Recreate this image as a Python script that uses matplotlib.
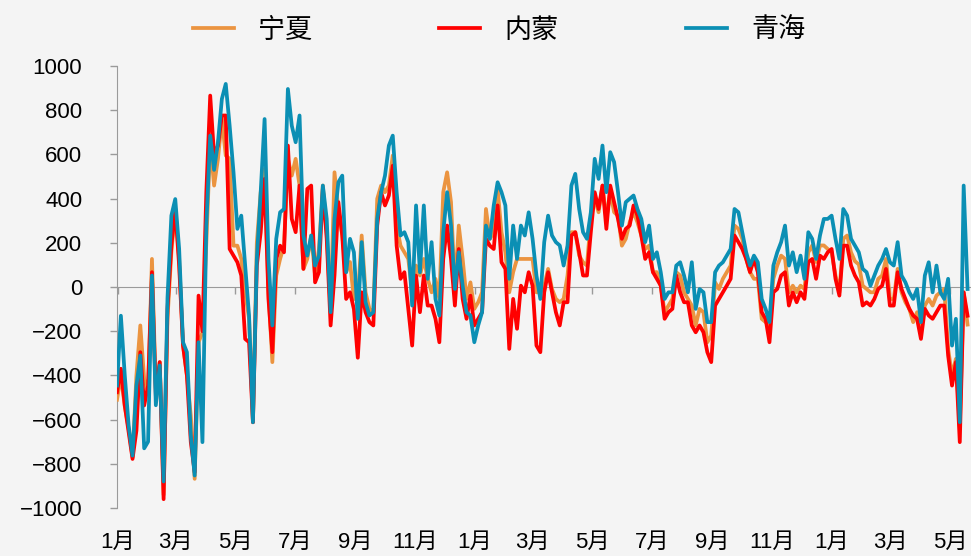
import matplotlib
matplotlib.use("Agg")
import matplotlib.pyplot as plt
import matplotlib.dates as mdates
import matplotlib.ticker as mticker
import pandas as pd

plt.rcParams['font.family'] = ['Liberation Sans', 'Noto Sans CJK SC']
plt.rcParams['axes.unicode_minus'] = True

# sampled roughly every 4 days, Jan (year 1) .. late May (year 3)
dates = pd.date_range('2021-12-31', '2024-05-19', periods=220)

ningxia = [
    -510, -400, -540, -640, -770, -400, -174, -416, -476, 127, -461, -340, -940, -144, 157,
    353, 127, -265, -400, -582, -868, -250, -205, 200, 655, 459, 580, 761, 595, 580,
    187, 187, 127, -24, -144,
    -612, 200, 429, 534, -24, -340, 52, 127, 187, 580, 504, 580, 459, 82, 127,
    233, 52, 172, 459, 248, -114, 519, 349, 233, 67, 113, -54, -54, 233, -24,
    -99, -114, 399, 459, 429, 459,
    595, 280, 187, 157, 127, -24, 97, 52, 127, 37, -24, 37, -54, 429, 519,
    384, -9, 278, 127, -54, 21, -99, -69, -24, 353, 218, 248, 444, 248, 157,
    -24, 67, 127, 127, 127, 127,
    127, -24, -24, 6, 82, -9, -54, -69, -54, 52, 248, 248, 142, 112, 97,
    308, 399, 338, 459, 308, 429, 338, 323, 187, 218, 293, 338, 293, 233, 172,
    187, 67, 67, 6, -114, -84,
    -54, 67, 52, -24, -54, -84, -174, -99, -114, -250, -220, 21, -9, 37, 67,
    97, 278, 263, 218, 127, 67, 37, 37, -144, -159, -174, 37, 97, 142, 127,
    -24, 6, -24, 6, -9, 157,
    188, 113, 188, 188, 172, 157, 52, -24, 218, 233, 157, 117, 102, 6, -9,
    -24, -24, 37, 52, 127, -54, -54, 82, -24, -69, -99, -159, -114, -190, -84,
    -54, -84, -39, -24, -9, -280, -400, -325, -630, -24, -170,
]

neimeng = [
    -476, -370, -536, -657, -778, -650, -295, -536, -446, 67, -491, -340, -960, -99, 187,
    353, 97, -265, -400, -702, -838, -39, -200, 430, 866, 595, 640, 776, 776, 172,
    142, 112, 52, -235, -250,
    -612, 97, 248, 489, -54, -295, 127, 187, 157, 640, 308, 248, 459, 82, 444,
    459, 21, 67, 444, 218, -174, 52, 384, 233, -54, -24, -100, -320, -24, -114,
    -159, -174, 278, 429, 369, 414,
    549, 187, 37, 67, -99, -265, 52, -114, 52, -84, -84, -144, -250, 127, 278,
    127, -84, 172, -54, -144, -39, -174, -144, -114, 218, 187, 172, 369, 112, 82,
    -280, -54, -189, 6, -24, 67,
    6, -265, -295, -24, 67, -24, -114, -174, -69, -69, 233, 248, 157, 52, 52,
    248, 429, 353, 459, 263, 459, 384, 308, 218, 263, 278, 369, 323, 233, 127,
    157, 67, 37, 6, -144, -114,
    -99, 52, -24, -69, -69, -174, -205, -174, -205, -295, -340, -84, -54, -24, 6,
    37, 233, 203, 172, 127, 67, 127, 67, -114, -144, -250, -24, -9, 52, 67,
    -84, -24, -69, -24, -54, 112,
    127, 37, 142, 127, 157, 172, 37, -39, 187, 187, 97, 52, 21, -84, -69,
    -84, -54, -9, 6, 82, -84, -84, 67, -9, -54, -99, -129, -144, -235, -99,
    -129, -144, -114, -84, -84, -310, -446, -340, -702, -24, -130,
]

qinghai = [
    -446, -130, -400, -627, -763, -446, -310, -730, -700, 52, -535, -355, -880, -50, 323,
    398, 172, -250, -295, -672, -853, -250, -702, 280, 685, 530, 655, 851, 919, 730,
    519, 263, 323, 97, -129,
    -612, 127, 429, 760, 127, -174, 218, 338, 353, 896, 730, 655, 776, 233, 142,
    233, 97, 142, 459, 308, -114, 308, 474, 504, 67, 218, 157, -144, 203, -69,
    -129, -114, 308, 429, 504, 640,
    685, 429, 233, 248, 203, -84, 369, 67, 369, 37, 203, -54, -129, 248, 429,
    278, -9, 157, 6, -114, -129, -250, -174, -114, 278, 218, 369, 474, 429, 369,
    37, 278, 127, 278, 233, 338,
    218, 52, -54, 203, 323, 233, 203, 188, 97, 188, 459, 512, 353, 248, 218,
    338, 580, 489, 640, 429, 610, 565, 429, 278, 384, 399, 414, 353, 308, 203,
    278, 127, 157, 67, -54, -24,
    -24, 97, 112, 52, -24, 112, -99, -9, -24, -159, -159, 67, 97, 112, 142,
    172, 353, 338, 248, 157, 97, 142, 112, -54, -99, -159, 97, 157, 203, 278,
    97, 157, 67, 142, 37, 248,
    218, 127, 233, 308, 308, 323, 218, 127, 353, 323, 218, 187, 157, 82, 67,
    6, 52, 97, 127, 172, 112, 97, 203, 52, 21, -24, -54, -9, -159, 52,
    112, -24, 97, -24, -54, 37, -265, -144, -612, 459, -9,
]

names = ['宁夏', '内蒙', '青海']
colors = ['#eb9440', '#ff0000', '#0b8fb4']
bg = '#f4f4f4'

fig = plt.figure(figsize=(9.71, 5.56), dpi=100, facecolor=bg)
ax = fig.add_axes([117 / 971, 48 / 556, 853 / 971, 442 / 556], facecolor=bg)

for vals, name, c in zip([ningxia, neimeng, qinghai], names, colors):
    ax.plot(dates, vals, color=c, lw=2.7, label=name, solid_joinstyle='round', zorder=3)

ax.set_ylim(-1000, 1000)
ax.set_yticks(range(-1000, 1001, 200))
ax.set_xlim(dates[0], pd.Timestamp('2024-05-21 12:00'))

month_ticks = mdates.MonthLocator(bymonth=[1, 3, 5, 7, 9, 11])
month_fmt = mticker.FuncFormatter(lambda x, pos: f"{mdates.num2date(x).month}月")

# bottom spine sits on zero, month ticks hang from it
ax.set_axisbelow(True)
ax.spines['bottom'].set_position(('data', 0))
ax.spines['bottom'].set_color('#9a9a9a')
ax.xaxis.set_major_locator(month_ticks)
ax.tick_params(axis='x', direction='out', length=5, width=1, color='#9a9a9a',
               labelbottom=False)

for s in ['top', 'right']:
    ax.spines[s].set_visible(False)
ax.spines['left'].set_color('#9a9a9a')
ax.tick_params(axis='y', length=5, width=1, color='#9a9a9a', pad=20, labelsize=16)

# month labels along the bottom edge
lab = ax.secondary_xaxis('bottom')
lab.xaxis.set_major_locator(mdates.MonthLocator(bymonth=[1, 3, 5, 7, 9, 11]))
lab.xaxis.set_major_formatter(month_fmt)
lab.spines['bottom'].set_visible(False)
lab.tick_params(axis='x', length=0, pad=17, labelsize=16)

fig.legend(loc='center', bbox_to_anchor=(0.514, 0.945), ncol=3, frameon=False,
           fontsize=19.5, handlelength=1.5, handletextpad=0.9, columnspacing=4.7)

fig.savefig('out.png', dpi=100, facecolor=bg)
